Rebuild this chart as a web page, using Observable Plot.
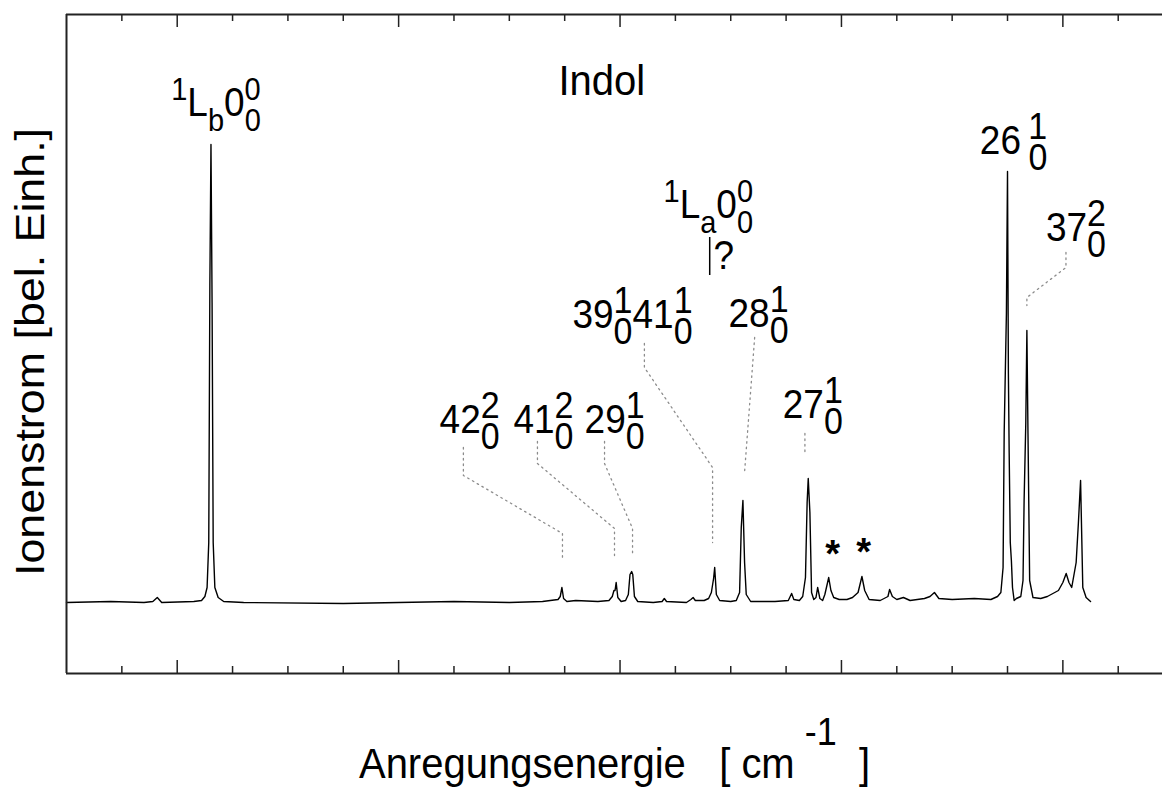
<!DOCTYPE html>
<html><head><meta charset="utf-8">
<script src="https://cdn.jsdelivr.net/npm/d3@7"></script>
<script src="https://cdn.jsdelivr.net/npm/@observablehq/plot@0.6"></script>
<style>html,body{margin:0;padding:0;background:#fff;overflow:hidden}#chart svg{display:block}</style>
</head><body><div id="chart"></div>
<script>
// ---- data (wavenumber in cm^-1, ion current in arbitrary units) ----
const xDomain = [35100, 36090];
const yDomain = [-71, 588];
const majorTicks = [35200, 35400, 35600, 35800, 36000];
const minorTicks = [35150, 35250, 35300, 35350, 35450, 35500, 35550, 35650, 35700, 35750, 35850, 35900, 35950, 36050];

const traceX = [35100,35140,35170,35178,35182,35186,35215,
 35222,35225,35227,35228.5,35229.5,35230.5,35231.5,35232.5,35234,35237,35242,35260,35350,35400,35450,35500,35530,
 35544,35546,35547.5,35549,35552,35560,35580,
 35590,35593,35594.5,35595.5,35596.5,35598,35601,
 35605,35607.5,35609,35610.5,35611.5,35613,35616,35630,35638,35640,35642,35660,35664,35666,35668,35676,
 35680,35682.5,35684.5,35685.5,35687,35690,35700,
 35705,35708,35709.5,35711,35712.5,35714,35718,35740,35752,35755,35757,35762,
 35765,35767.5,35769,35770,35771.5,35773,35775,35777,35778.5,35780.5,35783,35785,35788.5,35790.5,35793,35798,
 35805,35810,35815,35818.5,35821,35825,35835,35842,35843.5,35846,35850,35856,35862,35875,35880,35884,35888,35900,35920,35935,
 35941,35944,35946,35947,35949,35950,35950.8,35951.5,35952.5,35953.5,35954.5,35956,35958,
 35962,35964,35965,35966.5,35967.5,35968.5,35970,35973,35980,35986,35991,35996,36000,36003,36005.5,36008,
 36012,36014,36016,36018,36021,36025];
const traceY = [0,1,0,1,5,0,1,
 2,6,15,60,318,458,300,60,15,5,1,0,-1,0,1,0,1,
 3,6,15,4,1,2,1,
 2,6,12,12,20,5,1,
 2,8,28,31,28,6,1,0,1,4,1,0,3,5,2,2,
 4,10,24,35,8,2,1,
 2,10,75,102,40,8,1,1,2,9,3,2,
 6,25,100,124,90,10,3,5,15,4,2,8,25,12,5,3,
 3,5,10,26,12,3,2,6,13,6,3,5,2,4,6,10,4,3,4,3,
 6,10,35,170,289,431,229,150,60,42,15,2,4,
 6,22,102,179,272,169,22,5,4,6,9,12,20,29,20,15,
 40,79,122,15,5,1];

// dotted leader lines from labels to peaks
const leaderId = ["42","42","42","42","41","41","41","41","29","29","29","29","39","39","39","39","28","28","27","27","37","37","37","37"];
const leaderX = [35458.5,35458.5,35548,35548, 35525.4,35525.4,35595,35595, 35586,35586,35611.3,35611.3, 35622,35622,35683.6,35683.6, 35721.6,35712.6, 35767,35767, 36002.8,36002.8,35967.5,35967.5];
const leaderY = [155,127,69,42, 161,139,74,47, 161,139,74,47, 259,235,135,60, 265,132, 169,150, 350,335,305,297];

// labels
const vibText = ["42_{0}^{2}","41_{0}^{2}","29_{0}^{1}","39_{0}^{1}41_{0}^{1}","28_{0}^{1}","27_{0}^{1}","26\u2009_{0}^{1}","37_{0}^{2}"];
const vibX = [35437,35503.7,35568,35557,35698,35747,35925,35984.7];
const vibY = [170,170,170,275,276,185,449,362];
const elText = ["^{1}L_{b}0_{0}^{0}","^{1}L_{a}0_{0}^{0}"];
const elX = [35194.6,35639.3];
const elY = [487,385];
const title = "Indol"; const titleX = 35544.4; const titleY = 508;
const qText = "?"; const qX = 35684.5; const qY = 334;
const qBarX = 35681; const qBarY1 = 327; const qBarY2 = 365;
const starX = [35792,35820]; const starY = [36,38];
const xTitle = "Anregungsenergie\u00A0\u00A0\u00A0[\u00A0cm^{\u00A0-1}\u00A0\u00A0]";
const yTitle = "Ionenstrom [bel. Einh.]";

// ---- build ----
const trace = traceX.map((x,i)=>({x, y: traceY[i]}));
const leaders = leaderX.map((x,i)=>({id: leaderId[i], x, y: leaderY[i]}));
const vib = vibText.map((t,i)=>({t, x: vibX[i], y: vibY[i]}));
const el = elText.map((t,i)=>({t, x: elX[i], y: elY[i]}));
const stars = starX.map((x,i)=>({x, y: starY[i]}));

const W = 1162, H = 788, mT = 14, mB = 115;
const plotH = H - mT - mB;
const frameColor = "#222";
const SY = 1.08; // glyphs in the reference are slightly taller than wide

const textSpecs = [
  {mark: Plot.text(vib, {x:"x", y:"y", text:"t", textAnchor:"start", lineAnchor:"bottom", fontSize:37, fill:"black"}), cfg:{size:34, sup:13, sub:15}, scale:[1,SY]},
  {mark: Plot.text(el, {x:"x", y:"y", text:"t", textAnchor:"start", lineAnchor:"bottom", fontSize:37, fill:"black"}), cfg:{size:29, sup:14, sub:14}, scale:[1,SY]},
  {mark: Plot.text([title], {x:()=>titleX, y:()=>titleY, text:d=>d, textAnchor:"start", lineAnchor:"bottom", fontSize:40, fill:"black"}), cfg:null, scale:[1,SY]},
  {mark: Plot.text([qText], {x:()=>qX, y:()=>qY, text:d=>d, textAnchor:"start", lineAnchor:"bottom", fontSize:37, fill:"black"}), cfg:null, scale:[1,SY]},
  {mark: Plot.text(stars, {x:"x", y:"y", text:()=>"*", textAnchor:"middle", lineAnchor:"bottom", fontSize:38, fontWeight:"bold", fill:"black"}), cfg:null, scale:[1,1]},
  {mark: Plot.text([xTitle], {frameAnchor:"bottom", dy:104, text:d=>d, textAnchor:"middle", lineAnchor:"bottom", fontSize:40, fill:"black"}), cfg:{size:36, sup:30, sub:0}, scale:[1,SY]},
  {mark: Plot.text([yTitle], {frameAnchor:"left", dx:-23, dy:8, rotate:-90, text:d=>d, textAnchor:"middle", lineAnchor:"bottom", fontSize:40, fill:"black"}), cfg:null, scale:[1.12,1]}
];

const chart = Plot.plot({
  width: W, height: H,
  marginLeft: 66, marginRight: 0, marginTop: mT, marginBottom: mB,
  style: {fontFamily: "'Liberation Sans', Arial, Helvetica, sans-serif", background: "white", overflow: "visible"},
  x: {domain: xDomain, axis: null},
  y: {domain: yDomain, axis: null},
  marks: [
    Plot.line(leaders, {x:"x", y:"y", z:"id", stroke:"#8c8c8c", strokeWidth:1.3, strokeDasharray:"1.5,4"}),
    Plot.line(trace, {x:"x", y:"y", stroke:"black", strokeWidth:1.4, strokeLinejoin:"round"}),
    Plot.ruleX([qBarX], {x:d=>d, y1:()=>qBarY1, y2:()=>qBarY2, stroke:"black", strokeWidth:1.5}),
    // ticks (inward, top and bottom)
    Plot.ruleX(majorTicks, {x:d=>d, insetTop: plotH-13, stroke:frameColor, strokeWidth:1.5}),
    Plot.ruleX(majorTicks, {x:d=>d, insetBottom: plotH-13, stroke:frameColor, strokeWidth:1.5}),
    Plot.ruleX(minorTicks, {x:d=>d, insetTop: plotH-7, stroke:frameColor, strokeWidth:1.5}),
    Plot.ruleX(minorTicks, {x:d=>d, insetBottom: plotH-7, stroke:frameColor, strokeWidth:1.5}),
    // frame: left, top, bottom
    Plot.ruleY([yDomain[1], yDomain[0]], {y:d=>d, stroke:frameColor, strokeWidth:2}),
    Plot.ruleX([xDomain[0]], {x:d=>d, stroke:frameColor, strokeWidth:2}),
    ...textSpecs.map(s=>s.mark)
  ]
});
document.getElementById("chart").appendChild(chart);

// ---- rich text (stacked sub/superscripts) ----
function parse(m){
  const toks=[]; let buf=""; let i=0;
  while(i<m.length){
    const c=m[i];
    if(c==="^"||c==="_"){
      if(buf){toks.push({t:"n",s:buf});buf="";}
      let s;
      if(m[i+1]==="{"){const j=m.indexOf("}",i+2); s=m.slice(i+2,j); i=j+1;}
      else {s=m[i+1]; i+=2;}
      toks.push({t:c==="^"?"sup":"sub", s});
    } else {buf+=c; i++;}
  }
  if(buf) toks.push({t:"n",s:buf});
  return toks;
}
function richify(textEl, cfg){
  const m = textEl.textContent;
  if(!/[\^_]/.test(m)) return;
  const toks = parse(m);
  while(textEl.firstChild) textEl.removeChild(textEl.firstChild);
  let level=0, prev=null;
  for(const tok of toks){
    const ts=document.createElementNS("http://www.w3.org/2000/svg","tspan");
    ts.textContent=tok.s;
    const lvl = tok.t==="sup" ? -cfg.sup : tok.t==="sub" ? cfg.sub : 0;
    if(lvl!==level) ts.setAttribute("dy", lvl-level);
    level=lvl;
    if(tok.t!=="n") ts.setAttribute("font-size", cfg.size);
    textEl.appendChild(ts);
    if(prev && prev.t!=="n" && tok.t!=="n" && prev.t!==tok.t){
      ts.setAttribute("dx", -prev.el.getComputedTextLength());
      prev=null;
    } else prev={t:tok.t, el:ts};
  }
}
const groups = chart.querySelectorAll('g[aria-label="text"]');
groups.forEach((g,k)=>{
  const spec = textSpecs[k];
  if(!spec) return;
  g.querySelectorAll("text").forEach(t=>{
    if(spec.cfg) richify(t, spec.cfg);
    const tr = t.getAttribute("transform");
    if(tr && (spec.scale[0]!==1 || spec.scale[1]!==1)) t.setAttribute("transform", tr + ` scale(${spec.scale[0]},${spec.scale[1]})`);
  });
});
</script></body></html>
